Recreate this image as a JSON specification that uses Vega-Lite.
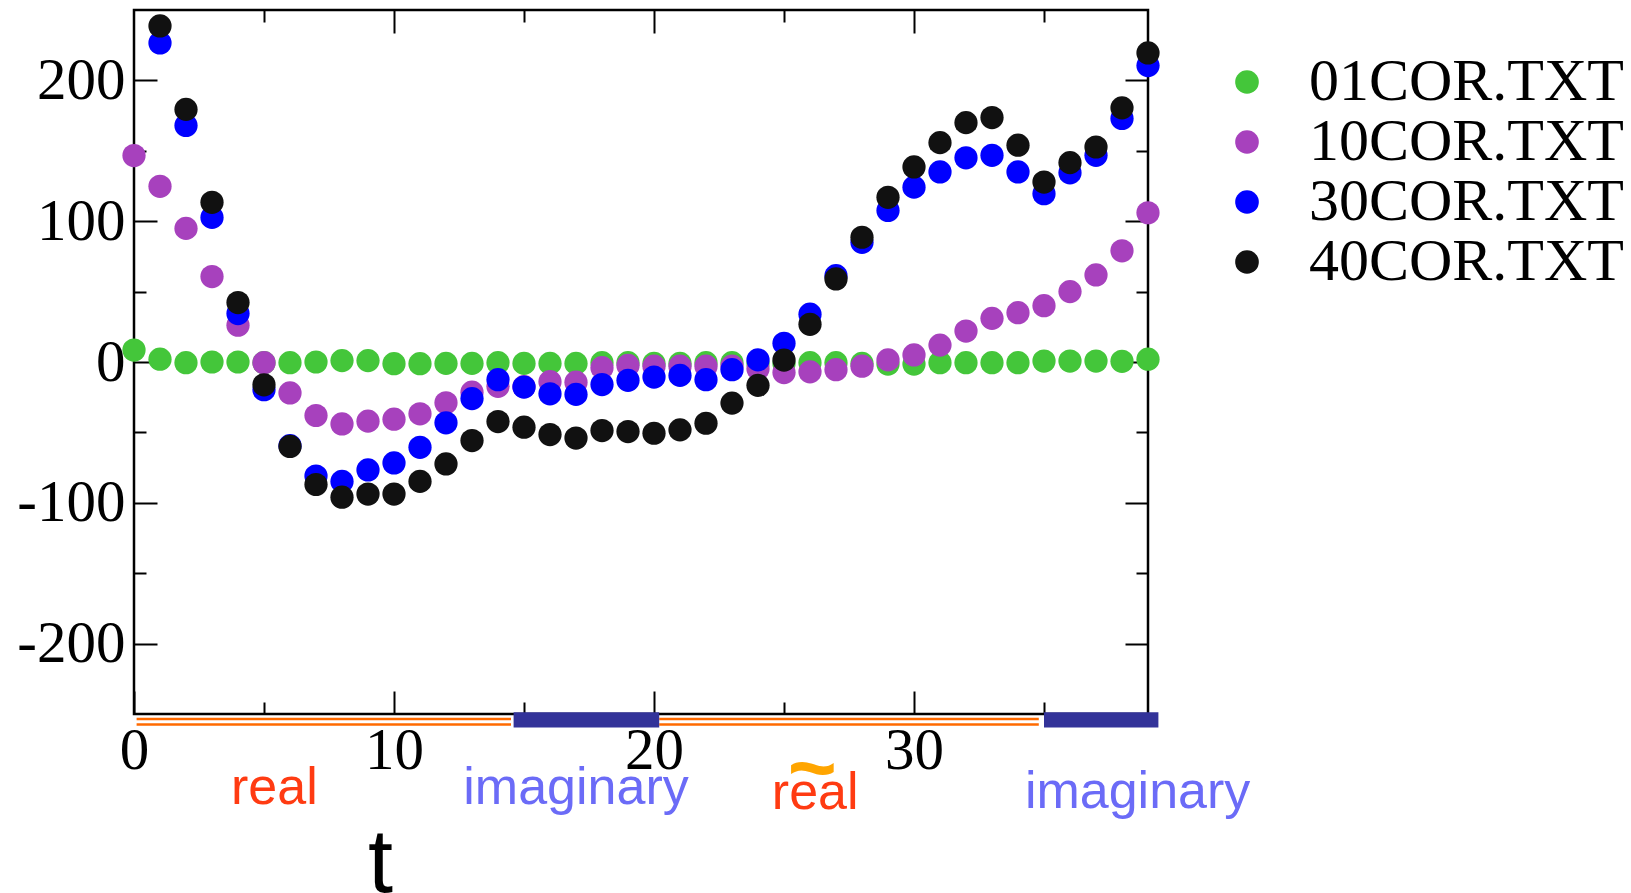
{
  "$schema": "https://vega.github.io/schema/vega-lite/v6.json",
  "width": 1014,
  "height": 704,
  "autosize": {"type": "none"},
  "padding": {"left": 134, "top": 10, "right": 483, "bottom": 179},
  "background": "white",
  "view": {"stroke": "black", "strokeWidth": 2.5},
  "datasets": {
    "cor": [
      {"file":"01COR.TXT","t":0,"value":8.5},{"file":"01COR.TXT","t":1,"value":2},{"file":"01COR.TXT","t":2,"value":-0.5},{"file":"01COR.TXT","t":3,"value":0},{"file":"01COR.TXT","t":4,"value":0},{"file":"01COR.TXT","t":5,"value":-0.5},{"file":"01COR.TXT","t":6,"value":-0.5},{"file":"01COR.TXT","t":7,"value":0},{"file":"01COR.TXT","t":8,"value":1},{"file":"01COR.TXT","t":9,"value":1},
      {"file":"01COR.TXT","t":10,"value":-1.2},{"file":"01COR.TXT","t":11,"value":-1.2},{"file":"01COR.TXT","t":12,"value":-1},{"file":"01COR.TXT","t":13,"value":-1},{"file":"01COR.TXT","t":14,"value":-0.5},{"file":"01COR.TXT","t":15,"value":-1},{"file":"01COR.TXT","t":16,"value":-1},{"file":"01COR.TXT","t":17,"value":-1},{"file":"01COR.TXT","t":18,"value":-0.5},{"file":"01COR.TXT","t":19,"value":-0.5},
      {"file":"01COR.TXT","t":20,"value":-1},{"file":"01COR.TXT","t":21,"value":-1},{"file":"01COR.TXT","t":22,"value":-0.5},{"file":"01COR.TXT","t":23,"value":-0.5},{"file":"01COR.TXT","t":24,"value":-1},{"file":"01COR.TXT","t":25,"value":-1},{"file":"01COR.TXT","t":26,"value":-0.5},{"file":"01COR.TXT","t":27,"value":-0.5},{"file":"01COR.TXT","t":28,"value":-1},{"file":"01COR.TXT","t":29,"value":-1.5},
      {"file":"01COR.TXT","t":30,"value":-1.5},{"file":"01COR.TXT","t":31,"value":-0.5},{"file":"01COR.TXT","t":32,"value":-0.5},{"file":"01COR.TXT","t":33,"value":-0.5},{"file":"01COR.TXT","t":34,"value":-0.5},{"file":"01COR.TXT","t":35,"value":0.7},{"file":"01COR.TXT","t":36,"value":0.7},{"file":"01COR.TXT","t":37,"value":0.7},{"file":"01COR.TXT","t":38,"value":0.5},{"file":"01COR.TXT","t":39,"value":2},
      {"file":"10COR.TXT","t":0,"value":146.6},{"file":"10COR.TXT","t":1,"value":124.8},{"file":"10COR.TXT","t":2,"value":94.9},{"file":"10COR.TXT","t":3,"value":60.7},{"file":"10COR.TXT","t":4,"value":26.1},{"file":"10COR.TXT","t":5,"value":-0.5},{"file":"10COR.TXT","t":6,"value":-22},{"file":"10COR.TXT","t":7,"value":-38},{"file":"10COR.TXT","t":8,"value":-44},{"file":"10COR.TXT","t":9,"value":-42},
      {"file":"10COR.TXT","t":10,"value":-40.6},{"file":"10COR.TXT","t":11,"value":-36.8},{"file":"10COR.TXT","t":12,"value":-29},{"file":"10COR.TXT","t":13,"value":-21.4},{"file":"10COR.TXT","t":14,"value":-17.3},{"file":"10COR.TXT","t":15,"value":-17.5},{"file":"10COR.TXT","t":16,"value":-14},{"file":"10COR.TXT","t":17,"value":-14.3},{"file":"10COR.TXT","t":18,"value":-4},{"file":"10COR.TXT","t":19,"value":-2.4},
      {"file":"10COR.TXT","t":20,"value":-3},{"file":"10COR.TXT","t":21,"value":-3},{"file":"10COR.TXT","t":22,"value":-3},{"file":"10COR.TXT","t":23,"value":-3},{"file":"10COR.TXT","t":24,"value":-4.8},{"file":"10COR.TXT","t":25,"value":-7.5},{"file":"10COR.TXT","t":26,"value":-7},{"file":"10COR.TXT","t":27,"value":-5.5},{"file":"10COR.TXT","t":28,"value":-3},{"file":"10COR.TXT","t":29,"value":1.5},
      {"file":"10COR.TXT","t":30,"value":5},{"file":"10COR.TXT","t":31,"value":12},{"file":"10COR.TXT","t":32,"value":22},{"file":"10COR.TXT","t":33,"value":31},{"file":"10COR.TXT","t":34,"value":35},{"file":"10COR.TXT","t":35,"value":40},{"file":"10COR.TXT","t":36,"value":50},{"file":"10COR.TXT","t":37,"value":61.8},{"file":"10COR.TXT","t":38,"value":79},{"file":"10COR.TXT","t":39,"value":106},
      {"file":"30COR.TXT","t":1,"value":226.6},{"file":"30COR.TXT","t":2,"value":168},{"file":"30COR.TXT","t":3,"value":102.7},{"file":"30COR.TXT","t":4,"value":34.4},{"file":"30COR.TXT","t":5,"value":-19.7},{"file":"30COR.TXT","t":6,"value":-59.4},{"file":"30COR.TXT","t":7,"value":-81},{"file":"30COR.TXT","t":8,"value":-84.8},{"file":"30COR.TXT","t":9,"value":-76.7},
      {"file":"30COR.TXT","t":10,"value":-71.7},{"file":"30COR.TXT","t":11,"value":-60.6},{"file":"30COR.TXT","t":12,"value":-43.2},{"file":"30COR.TXT","t":13,"value":-26},{"file":"30COR.TXT","t":14,"value":-12.6},{"file":"30COR.TXT","t":15,"value":-17.8},{"file":"30COR.TXT","t":16,"value":-22.6},{"file":"30COR.TXT","t":17,"value":-23},{"file":"30COR.TXT","t":18,"value":-16},{"file":"30COR.TXT","t":19,"value":-13},
      {"file":"30COR.TXT","t":20,"value":-10.7},{"file":"30COR.TXT","t":21,"value":-9.5},{"file":"30COR.TXT","t":22,"value":-12.6},{"file":"30COR.TXT","t":23,"value":-5.5},{"file":"30COR.TXT","t":24,"value":1.5},{"file":"30COR.TXT","t":25,"value":13.3},{"file":"30COR.TXT","t":26,"value":34},{"file":"30COR.TXT","t":27,"value":61.3},{"file":"30COR.TXT","t":28,"value":85},{"file":"30COR.TXT","t":29,"value":107.6},
      {"file":"30COR.TXT","t":30,"value":124.2},{"file":"30COR.TXT","t":31,"value":135},{"file":"30COR.TXT","t":32,"value":145},{"file":"30COR.TXT","t":33,"value":146.8},{"file":"30COR.TXT","t":34,"value":135},{"file":"30COR.TXT","t":35,"value":119.5},{"file":"30COR.TXT","t":36,"value":134.4},{"file":"30COR.TXT","t":37,"value":146.8},{"file":"30COR.TXT","t":38,"value":173},{"file":"30COR.TXT","t":39,"value":210.5},
      {"file":"40COR.TXT","t":1,"value":238.7},{"file":"40COR.TXT","t":2,"value":179.4},{"file":"40COR.TXT","t":3,"value":113.4},{"file":"40COR.TXT","t":4,"value":42.2},{"file":"40COR.TXT","t":5,"value":-16.2},{"file":"40COR.TXT","t":6,"value":-60},{"file":"40COR.TXT","t":7,"value":-87},{"file":"40COR.TXT","t":8,"value":-96},{"file":"40COR.TXT","t":9,"value":-93.8},
      {"file":"40COR.TXT","t":10,"value":-93.8},{"file":"40COR.TXT","t":11,"value":-84.8},{"file":"40COR.TXT","t":12,"value":-72.4},{"file":"40COR.TXT","t":13,"value":-55.8},{"file":"40COR.TXT","t":14,"value":-42.3},{"file":"40COR.TXT","t":15,"value":-46.3},{"file":"40COR.TXT","t":16,"value":-51.5},{"file":"40COR.TXT","t":17,"value":-54},{"file":"40COR.TXT","t":18,"value":-48.7},{"file":"40COR.TXT","t":19,"value":-49.4},
      {"file":"40COR.TXT","t":20,"value":-50.6},{"file":"40COR.TXT","t":21,"value":-48.2},{"file":"40COR.TXT","t":22,"value":-43.5},{"file":"40COR.TXT","t":23,"value":-29.2},{"file":"40COR.TXT","t":24,"value":-16.6},{"file":"40COR.TXT","t":25,"value":1.4},{"file":"40COR.TXT","t":26,"value":26.8},{"file":"40COR.TXT","t":27,"value":59},{"file":"40COR.TXT","t":28,"value":88.6},{"file":"40COR.TXT","t":29,"value":117},
      {"file":"40COR.TXT","t":30,"value":138.5},{"file":"40COR.TXT","t":31,"value":155.8},{"file":"40COR.TXT","t":32,"value":170},{"file":"40COR.TXT","t":33,"value":173.6},{"file":"40COR.TXT","t":34,"value":154},{"file":"40COR.TXT","t":35,"value":127.8},{"file":"40COR.TXT","t":36,"value":141.6},{"file":"40COR.TXT","t":37,"value":152.7},{"file":"40COR.TXT","t":38,"value":180.5},{"file":"40COR.TXT","t":39,"value":219.5}
    ],
    "bands": [
      {"part":"real","start":0.1,"end":14.5,"label":"real","labelT":5.4,"accent":""},
      {"part":"imaginary","start":14.6,"end":20.2,"label":"imaginary","labelT":17,"accent":""},
      {"part":"real","start":20.2,"end":34.8,"label":"real","labelT":26.2,"accent":"~"},
      {"part":"imaginary","start":35.0,"end":39.4,"label":"imaginary","labelT":38.6,"accent":""}
    ]
  },
  "layer": [
    {
      "data": {"name": "bands"},
      "transform": [{"filter": "datum.part === 'real'"}],
      "mark": {"type": "rule", "color": "#ff6a00", "strokeWidth": 2.5},
      "encoding": {
        "x": {"field": "start", "type": "quantitative", "scale": {"domain": [0, 39], "nice": false, "zero": false}, "axis": null},
        "x2": {"field": "end"},
        "y": {"datum": -253.6, "type": "quantitative", "scale": {"domain": [-250, 250], "nice": false}, "axis": null}
      }
    },
    {
      "data": {"name": "bands"},
      "transform": [{"filter": "datum.part === 'real'"}],
      "mark": {"type": "rule", "color": "#ff6a00", "strokeWidth": 2.5},
      "encoding": {
        "x": {"field": "start", "type": "quantitative", "scale": {"domain": [0, 39], "nice": false, "zero": false}, "axis": null},
        "x2": {"field": "end"},
        "y": {"datum": -257.4, "type": "quantitative", "scale": {"domain": [-250, 250], "nice": false}, "axis": null}
      }
    },
    {
      "data": {"name": "bands"},
      "transform": [{"filter": "datum.part === 'imaginary'"}],
      "mark": {"type": "rect", "color": "#333399"},
      "encoding": {
        "x": {"field": "start", "type": "quantitative", "scale": {"domain": [0, 39], "nice": false, "zero": false}, "axis": null},
        "x2": {"field": "end"},
        "y": {"datum": -248.8, "type": "quantitative", "scale": {"domain": [-250, 250], "nice": false}, "axis": null},
        "y2": {"datum": -259.5}
      }
    },
    {
      "data": {"name": "bands"},
      "transform": [{"filter": "datum.part === 'real' && datum.accent === ''"}],
      "mark": {"type": "text", "font": "Liberation Sans", "fontSize": 52, "align": "center", "baseline": "alphabetic", "color": "#ff3b12"},
      "encoding": {
        "x": {"field": "labelT", "type": "quantitative", "scale": {"domain": [0, 39], "nice": false, "zero": false}, "axis": null},
        "y": {"datum": -313.9, "type": "quantitative", "scale": {"domain": [-250, 250], "nice": false}, "axis": null},
        "text": {"field": "label"}
      }
    },
    {
      "data": {"name": "bands"},
      "transform": [{"filter": "datum.part === 'real' && datum.accent !== ''"}],
      "mark": {"type": "text", "font": "Liberation Sans", "fontSize": 52, "align": "center", "baseline": "alphabetic", "color": "#ff3b12", "dy": 5},
      "encoding": {
        "x": {"field": "labelT", "type": "quantitative", "scale": {"domain": [0, 39], "nice": false, "zero": false}, "axis": null},
        "y": {"datum": -313.9, "type": "quantitative", "scale": {"domain": [-250, 250], "nice": false}, "axis": null},
        "text": {"field": "label"}
      }
    },
    {
      "data": {"name": "bands"},
      "transform": [{"filter": "datum.part === 'imaginary' && datum.start < 30"}],
      "mark": {"type": "text", "font": "Liberation Sans", "fontSize": 52, "align": "center", "baseline": "alphabetic", "color": "#6b6bf7"},
      "encoding": {
        "x": {"field": "labelT", "type": "quantitative", "scale": {"domain": [0, 39], "nice": false, "zero": false}, "axis": null},
        "y": {"datum": -313.9, "type": "quantitative", "scale": {"domain": [-250, 250], "nice": false}, "axis": null},
        "text": {"field": "label"}
      }
    },
    {
      "data": {"name": "bands"},
      "transform": [{"filter": "datum.part === 'imaginary' && datum.start >= 30"}],
      "mark": {"type": "text", "font": "Liberation Sans", "fontSize": 52, "align": "center", "baseline": "alphabetic", "color": "#6b6bf7", "dy": 4},
      "encoding": {
        "x": {"field": "labelT", "type": "quantitative", "scale": {"domain": [0, 39], "nice": false, "zero": false}, "axis": null},
        "y": {"datum": -313.9, "type": "quantitative", "scale": {"domain": [-250, 250], "nice": false}, "axis": null},
        "text": {"field": "label"}
      }
    },
    {
      "data": {"name": "bands"},
      "transform": [{"filter": "datum.accent !== ''"}],
      "mark": {"type": "text", "font": "Liberation Sans", "fontSize": 84, "fontWeight": "bold", "align": "center", "baseline": "alphabetic", "color": "#ffa500", "dx": -3, "dy": -8},
      "encoding": {
        "x": {"field": "labelT", "type": "quantitative", "scale": {"domain": [0, 39], "nice": false, "zero": false}, "axis": null},
        "y": {"datum": -313.9, "type": "quantitative", "scale": {"domain": [-250, 250], "nice": false}, "axis": null},
        "text": {"field": "accent"}
      }
    },
    {
      "data": {"name": "cor"},
      "mark": {"type": "circle", "size": 540, "opacity": 1},
      "encoding": {
        "x": {
          "field": "t", "type": "quantitative",
          "scale": {"domain": [0, 39], "nice": false, "zero": false},
          "axis": {
            "orient": "bottom",
            "values": [0, 5, 10, 15, 20, 25, 30, 35],
            "domain": false, "grid": false,
            "tickColor": "black", "tickWidth": 2,
            "tickSize": {"condition": {"test": "datum.value % 10 === 0", "value": -23}, "value": -12},
            "labelExpr": "datum.value % 10 === 0 ? '' + datum.value : ''",
            "labelFont": "Liberation Serif", "labelFontSize": 59, "labelColor": "black",
            "labelPadding": 30, "labelFlush": false, "labelOverlap": false, "labelBound": false,
            "title": "t", "titleFont": "Liberation Sans", "titleFontSize": 90, "titleFontWeight": "normal",
            "titleColor": "black", "titleX": 246, "titleY": 177, "titleAlign": "center", "titleBaseline": "alphabetic"
          }
        },
        "y": {
          "field": "value", "type": "quantitative",
          "scale": {"domain": [-250, 250], "nice": false},
          "axis": {
            "orient": "left",
            "values": [-200, -150, -100, -50, 0, 50, 100, 150, 200],
            "domain": false, "grid": false,
            "tickColor": "black", "tickWidth": 2,
            "tickSize": {"condition": {"test": "datum.value % 100 === 0", "value": -23}, "value": -12},
            "labelExpr": "datum.value % 100 === 0 ? '' + datum.value : ''",
            "labelFont": "Liberation Serif", "labelFontSize": 59, "labelColor": "black",
            "labelPadding": 32, "labelFlush": false, "labelOverlap": false, "labelBound": false,
            "title": null
          }
        },
        "color": {
          "field": "file", "type": "nominal",
          "scale": {"domain": ["01COR.TXT", "10COR.TXT", "30COR.TXT", "40COR.TXT"], "range": ["#44c63a", "#a741bd", "#0000ff", "#111111"]},
          "legend": {
            "orient": "none", "legendX": 1083, "legendY": 42,
            "title": null, "padding": 0,
            "labelFont": "Liberation Serif", "labelFontSize": 60, "labelColor": "black",
            "labelOffset": 32, "labelLimit": 0,
            "symbolType": "circle", "symbolSize": 560, "symbolStrokeWidth": 0, "symbolOpacity": 1,
            "rowPadding": -2.5
          }
        }
      }
    },
    {
      "data": {"name": "cor"},
      "mark": {"type": "point", "opacity": 0},
      "encoding": {
        "x": {
          "field": "t", "type": "quantitative",
          "scale": {"domain": [0, 39], "nice": false, "zero": false},
          "axis": {
            "orient": "top",
            "values": [5, 10, 15, 20, 25, 30, 35],
            "domain": false, "grid": false, "labels": false, "title": null,
            "tickColor": "black", "tickWidth": 2,
            "tickSize": {"condition": {"test": "datum.value % 10 === 0", "value": -23}, "value": -12}
          }
        },
        "y": {
          "field": "value", "type": "quantitative",
          "scale": {"domain": [-250, 250], "nice": false},
          "axis": {
            "orient": "right",
            "values": [-200, -150, -100, -50, 0, 50, 100, 150, 200],
            "domain": false, "grid": false, "labels": false, "title": null,
            "tickColor": "black", "tickWidth": 2,
            "tickSize": {"condition": {"test": "datum.value % 100 === 0", "value": -23}, "value": -12}
          }
        }
      }
    }
  ],
  "resolve": {"axis": {"x": "independent", "y": "independent"}}
}
